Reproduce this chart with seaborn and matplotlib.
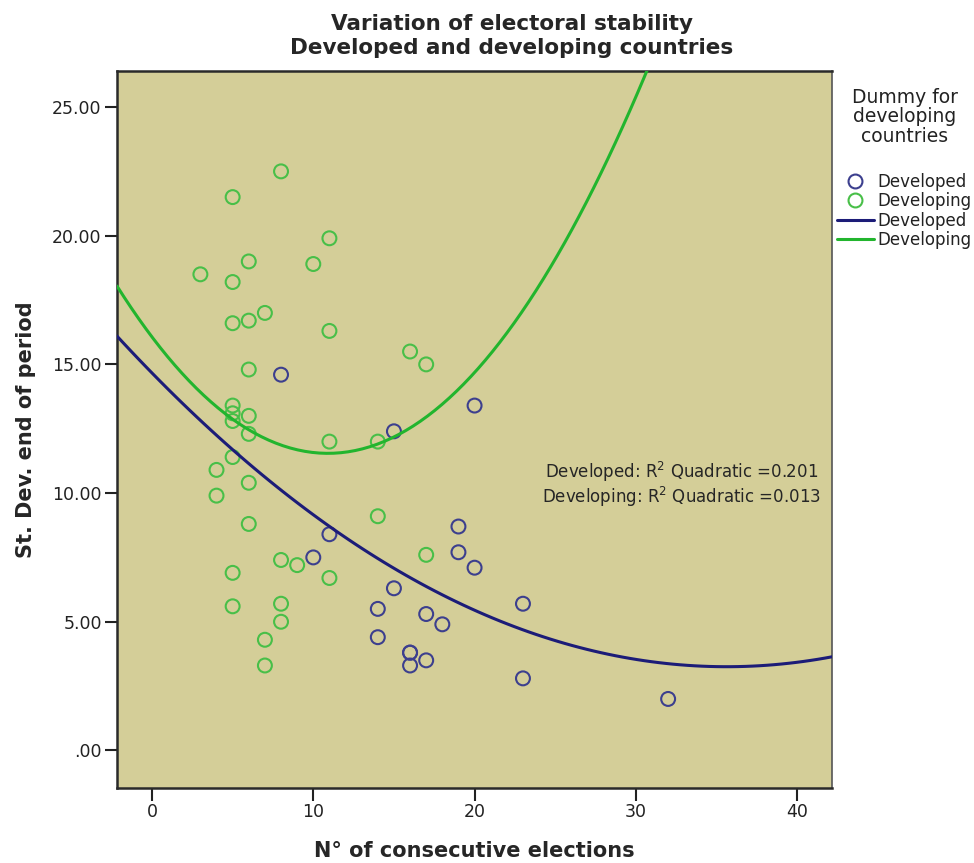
import numpy as np
import pandas as pd
import matplotlib
matplotlib.use("Agg")
import matplotlib.pyplot as plt
from matplotlib.lines import Line2D
import seaborn as sns

# ---- data ----
dev_x = [8, 15, 20, 11, 10, 19, 19, 20, 15, 14, 23, 17, 18, 14, 16, 16, 16, 17, 23, 32]
dev_y = [14.6, 12.4, 13.4, 8.4, 7.5, 8.7, 7.7, 7.1, 6.3, 5.5, 5.7, 5.3, 4.9, 4.4, 3.8, 3.8, 3.3, 3.5, 2.8, 2.0]

dvg_x = [8, 5, 11, 6, 10, 3, 5, 7, 5, 6, 11, 6, 16, 17, 5, 5, 5, 6, 6, 11, 14,
         5, 4, 6, 4, 14, 6, 17, 8, 9, 11, 5, 5, 8, 8, 7, 7]
dvg_y = [22.5, 21.5, 19.9, 19.0, 18.9, 18.5, 18.2, 17.0, 16.6, 16.7, 16.3, 14.8, 15.5, 15.0,
         13.4, 13.1, 12.8, 13.0, 12.3, 12.0, 12.0, 11.4, 10.9, 10.4, 9.9, 9.1, 8.8, 7.6,
         7.4, 7.2, 6.7, 6.9, 5.6, 5.7, 5.0, 4.3, 3.3]

groups = ["Developed", "Developing"]
r2_labels = ["0.201", "0.013"]
x_ticks = [0, 10, 20, 30, 40]
y_ticks = [0, 5, 10, 15, 20, 25]
y_tick_labels = [".00", "5.00", "10.00", "15.00", "20.00", "25.00"]

df = pd.DataFrame({
    "x": dev_x + dvg_x,
    "y": dev_y + dvg_y,
    "group": [groups[0]] * len(dev_x) + [groups[1]] * len(dvg_x),
})

# ---- style ----
sns.set_style("white")
plt.rcParams["font.family"] = ["DejaVu Sans"]

bg = "#D4CE98"
pt_cols = {"Developed": "#3C3F8E", "Developing": "#48BF48"}
ln_cols = {"Developed": "#1C1C78", "Developing": "#22B52E"}

fig = plt.figure(figsize=(9.74, 8.63), dpi=100)
ax = fig.add_axes([117 / 974, 1 - 788 / 863, (832 - 117) / 974, (788 - 71) / 863])
ax.set_facecolor(bg)
ax.set_xlim(-2.17, 42.16)
ax.set_ylim(-1.46, 26.4)

for g in groups:
    sub = df[df["group"] == g]
    sns.scatterplot(x=sub["x"], y=sub["y"], ax=ax, s=100, marker="o",
                    color=pt_cols[g], facecolor="none", edgecolor=pt_cols[g],
                    linewidth=1.5, legend=False, zorder=3)

for g in groups:
    sub = df[df["group"] == g]
    sns.regplot(x=sub["x"], y=sub["y"], ax=ax, order=2, ci=None, scatter=False,
                truncate=False, line_kws=dict(color=ln_cols[g], lw=2.2, zorder=4))

ax.set_xlim(-2.17, 42.16)
ax.set_ylim(-1.46, 26.4)
ax.set_xticks(x_ticks)
ax.set_xticklabels([str(t) for t in x_ticks])
ax.set_yticks(y_ticks)
ax.set_yticklabels(y_tick_labels)
ax.tick_params(axis="both", direction="out", length=9, width=1.5, color="#222222",
               labelsize=12.5, labelcolor="#222222", pad=2, left=True, bottom=True)

for side in ["left", "bottom", "top"]:
    ax.spines[side].set_color("#2a2a2a")
    ax.spines[side].set_linewidth(1.8)
ax.spines["right"].set_color("#555555")
ax.spines["right"].set_linewidth(1.2)

ax.set_xlabel("N° of consecutive elections", fontsize=15, fontweight="bold", labelpad=14)
ax.set_ylabel("St. Dev. end of period", fontsize=15, fontweight="bold", labelpad=12)

fig.text(512 / 974, 1 - 36 / 863, "Variation of electoral stability\nDeveloped and developing countries",
         ha="center", va="center", fontsize=15.5, fontweight="bold", linespacing=1.2)

ax.text(0.79, 0.423,
        f"Developed: R$^2$ Quadratic ={r2_labels[0]}\nDeveloping: R$^2$ Quadratic ={r2_labels[1]}",
        transform=ax.transAxes, ha="center", va="center", fontsize=12, linespacing=1.05)

# legend title as separate centered text
fig.text(905 / 974, 1 - 117 / 863, "Dummy for\ndeveloping\ncountries",
         ha="center", va="center", fontsize=13.5, linespacing=1.05, color="#222222")

handles = [
    Line2D([], [], ls="none", marker="o", markersize=10, markerfacecolor="none",
           markeredgecolor=pt_cols["Developed"], markeredgewidth=1.5),
    Line2D([], [], ls="none", marker="o", markersize=10, markerfacecolor="none",
           markeredgecolor=pt_cols["Developing"], markeredgewidth=1.5),
    Line2D([], [], color=ln_cols["Developed"], lw=2.2),
    Line2D([], [], color=ln_cols["Developing"], lw=2.2),
]
leg = fig.legend(handles, groups + groups, loc="upper left",
                 bbox_to_anchor=(837 / 974, 1 - 173 / 863), frameon=False,
                 fontsize=12, handlelength=2.2, handletextpad=0.25,
                 labelspacing=0.08, borderaxespad=0, borderpad=0)
for t in leg.get_texts():
    t.set_color("#222222")

fig.savefig("out.png", dpi=100, facecolor="white")
